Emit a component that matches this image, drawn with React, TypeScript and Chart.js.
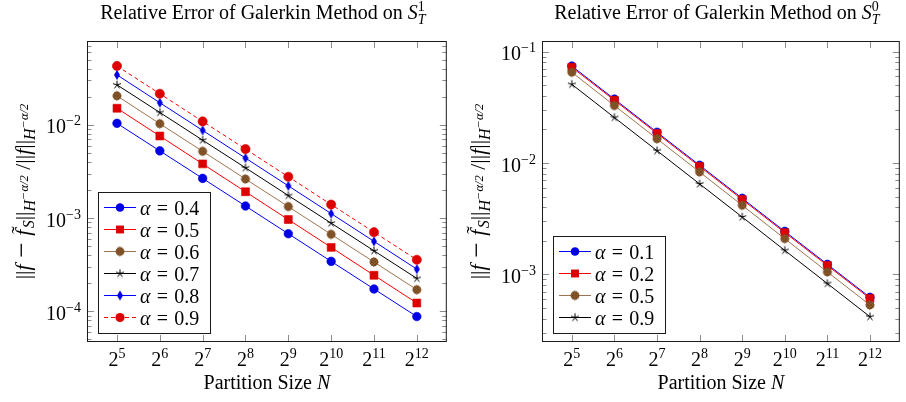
import React, { useEffect, useRef } from "react";
import { Chart, registerables } from "chart.js";

Chart.register(...registerables);

// ---------------- DATA ----------------
const partitionSizes = [32, 64, 128, 256, 512, 1024, 2048, 4096];
const partitionExponents = ["5", "6", "7", "8", "9", "10", "11", "12"];

// Left panel: S^1_T
const alphaLabelsS1 = ["0.4", "0.5", "0.6", "0.7", "0.8", "0.9"];
const errS1_a04 = [0.0104, 0.00527, 0.00267, 0.00135, 0.000681, 0.000344, 0.000174, 0.0000881];
const errS1_a05 = [0.0151, 0.0076, 0.00382, 0.00192, 0.000966, 0.000486, 0.000244, 0.000123];
const errS1_a06 = [0.0205, 0.0103, 0.00521, 0.00263, 0.00133, 0.000671, 0.000339, 0.000171];
const errS1_a07 = [0.0269, 0.0136, 0.00686, 0.00347, 0.00175, 0.000885, 0.000447, 0.000226];
const errS1_a08 = [0.0344, 0.0173, 0.00873, 0.00441, 0.00222, 0.00112, 0.000564, 0.000284];
const errS1_a09 = [0.0429, 0.0216, 0.0109, 0.00551, 0.00278, 0.0014, 0.000708, 0.000358];

// Right panel: S^0_T
const alphaLabelsS0 = ["0.1", "0.2", "0.5", "0.9"];
const errS0_a01 = [0.0743, 0.0375, 0.0189, 0.00955, 0.00482, 0.00243, 0.00123, 0.000621];
const errS0_a02 = [0.0724, 0.0366, 0.01845, 0.00931, 0.0047, 0.00237, 0.0012, 0.000607];
const errS0_a05 = [0.0653, 0.0328, 0.0165, 0.0083, 0.00417, 0.00209, 0.00105, 0.00053];
const errS0_a09 = [0.0509, 0.0256, 0.0129, 0.00649, 0.00327, 0.00164, 0.000826, 0.000416];

// ---------------- TEXT HELPERS ----------------
const SERIF = "'Liberation Serif', 'DejaVu Serif', serif";

type Seg = { t: string; s?: number; it?: boolean; dy?: number; dx?: number; keep?: boolean };

function segFont(g: Seg) {
  return `${g.it ? "italic " : ""}${g.s ?? 20}px ${SERIF}`;
}

function measureRich(ctx: CanvasRenderingContext2D, segs: Seg[]) {
  let w = 0;
  let pending = 0;
  for (const g of segs) {
    ctx.font = segFont(g);
    const m = ctx.measureText(g.t).width;
    if (g.keep) pending = Math.max(pending, m);
    else {
      w += Math.max(m, pending);
      pending = 0;
    }
  }
  return w + pending;
}

function drawRich(
  ctx: CanvasRenderingContext2D,
  segs: Seg[],
  x: number,
  y: number,
  align: "left" | "center" | "right"
) {
  const w = measureRich(ctx, segs);
  let cx = align === "left" ? x : align === "center" ? x - w / 2 : x - w;
  let pending = 0;
  ctx.textAlign = "left";
  ctx.textBaseline = "alphabetic";
  for (const g of segs) {
    ctx.font = segFont(g);
    const m = ctx.measureText(g.t).width;
    ctx.fillText(g.t, cx + (g.dx ?? 0), y + (g.dy ?? 0));
    if (g.keep) pending = Math.max(pending, m);
    else {
      cx += Math.max(m, pending);
      pending = 0;
    }
  }
}

// ---------------- MARKERS ----------------
function makeStar(color: string) {
  const c = document.createElement("canvas");
  c.width = 12;
  c.height = 12;
  const g = c.getContext("2d")!;
  g.strokeStyle = color;
  g.lineWidth = 1;
  g.beginPath();
  for (let k = 0; k < 5; k++) {
    const a = -Math.PI / 2 + (k * 2 * Math.PI) / 5;
    g.moveTo(6, 6);
    g.lineTo(6 + 4.2 * Math.cos(a), 6 + 4.2 * Math.sin(a));
  }
  g.stroke();
  return c;
}

function makeDiamond(color: string) {
  const c = document.createElement("canvas");
  c.width = 10;
  c.height = 14;
  const g = c.getContext("2d")!;
  g.fillStyle = color;
  g.beginPath();
  g.moveTo(5, 2);
  g.lineTo(8, 7);
  g.lineTo(5, 12);
  g.lineTo(2, 7);
  g.closePath();
  g.fill();
  return c;
}

function makeBrownDot() {
  const c = document.createElement("canvas");
  c.width = 12;
  c.height = 12;
  const g = c.getContext("2d")!;
  g.fillStyle = "#8f5d2e";
  g.beginPath();
  g.arc(6, 6, 4.4, 0, Math.PI * 2);
  g.fill();
  g.save();
  g.clip();
  g.strokeStyle = "#6a421c";
  g.lineWidth = 0.7;
  g.beginPath();
  for (let k = -8; k <= 8; k += 3) {
    g.moveTo(k, 0);
    g.lineTo(k + 12, 12);
    g.moveTo(k + 12, 0);
    g.lineTo(k, 12);
  }
  g.stroke();
  g.restore();
  return c;
}

// ---------------- STYLES ----------------
type SeriesStyle = {
  line: string;
  fill: string;
  dash: number[];
  marker: "circle" | "rect" | "star" | "diamond" | "brown";
  r: number;
};

const BLUE: SeriesStyle = { line: "#0000ff", fill: "#0000e6", dash: [], marker: "circle", r: 4.3 };
const RED_SQ: SeriesStyle = { line: "#ff0000", fill: "#dd0000", dash: [], marker: "rect", r: 5.6 };
const BROWN: SeriesStyle = { line: "#9c7550", fill: "#8f5d2e", dash: [], marker: "brown", r: 4.4 };
const BLACK_STAR: SeriesStyle = { line: "#000000", fill: "#000000", dash: [], marker: "star", r: 4.5 };
const BLUE_DIAM: SeriesStyle = { line: "#0000ff", fill: "#0000e6", dash: [], marker: "diamond", r: 4.5 };
const RED_DASH: SeriesStyle = { line: "#ff0000", fill: "#dd0000", dash: [4, 3], marker: "circle", r: 4.6 };

function pointStyleFor(st: SeriesStyle): any {
  if (st.marker === "star") return makeStar(st.fill);
  if (st.marker === "diamond") return makeDiamond(st.fill);
  if (st.marker === "brown") return makeBrownDot();
  return st.marker;
}

// ---------------- CHART BUILDER ----------------
type PanelSpec = {
  title: Seg[];
  padding: { left: number; right: number; top: number; bottom: number };
  xMin: number;
  xMax: number;
  yMin: number;
  yMax: number;
  alphas: string[];
  values: number[][];
  styles: SeriesStyle[];
};

const yLabelSegs: Seg[] = [
  { t: "||", s: 22 },
  { t: "f", s: 22, it: true },
  { t: " − ", s: 27 },
  { t: "˜", s: 22, dy: -4, dx: 2, keep: true },
  { t: "f", s: 22, it: true },
  { t: "S", s: 16, it: true, dy: 4 },
  { t: "||", s: 22 },
  { t: "H", s: 16, it: true, dy: 5 },
  { t: "−α/2", s: 12.5, it: true, dy: -2 },
  { t: " /", s: 22 },
  { t: "||", s: 22 },
  { t: "f", s: 22, it: true },
  { t: "||", s: 22 },
  { t: "H", s: 16, it: true, dy: 5 },
  { t: "−α/2", s: 12.5, it: true, dy: -2 },
];

function buildConfig(spec: PanelSpec): any {
  const pointStyles = spec.styles.map(pointStyleFor);
  const n = spec.values.length;
  const datasets = spec.values.map((vals, i) => {
    const st = spec.styles[i];
    return {
      label: "α = " + spec.alphas[i],
      data: vals.map((v, j) => ({ x: partitionSizes[j], y: v })),
      order: n - i,
      borderColor: st.line,
      borderWidth: 1,
      borderDash: st.dash,
      backgroundColor: st.fill,
      pointStyle: pointStyles[i],
      pointRadius: st.r,
      pointHoverRadius: st.r,
      pointBackgroundColor: st.fill,
      pointBorderColor: st.fill,
      pointBorderWidth: 0.6,
      fill: false,
      tension: 0,
    };
  });

  const panelPlugin = {
    id: "panelDecor",
    afterDraw(chart: any) {
      const { ctx, chartArea: a } = chart;
      const xs = chart.scales.x;
      const ys = chart.scales.y;
      ctx.save();

      // ticks
      ctx.strokeStyle = "#8c8c8c";
      ctx.lineWidth = 1;
      ctx.beginPath();
      for (const v of partitionSizes) {
        const px = Math.round(xs.getPixelForValue(v)) + 0.5;
        ctx.moveTo(px, a.top);
        ctx.lineTo(px, a.top + 7);
        ctx.moveTo(px, a.bottom);
        ctx.lineTo(px, a.bottom - 7);
      }
      const dLo = Math.floor(Math.log10(spec.yMin));
      const dHi = Math.ceil(Math.log10(spec.yMax));
      const majors: { v: number; d: number }[] = [];
      for (let d = dLo; d <= dHi; d++) {
        for (let k = 1; k <= 9; k++) {
          const v = k * Math.pow(10, d);
          if (v < spec.yMin || v > spec.yMax) continue;
          const py = Math.round(ys.getPixelForValue(v)) + 0.5;
          const len = k === 1 ? 7 : 4.5;
          ctx.moveTo(a.left, py);
          ctx.lineTo(a.left + len, py);
          ctx.moveTo(a.right, py);
          ctx.lineTo(a.right - len, py);
          if (k === 1) majors.push({ v, d });
        }
      }
      ctx.stroke();

      // frame
      ctx.strokeStyle = "#1a1a1a";
      ctx.lineWidth = 1;
      ctx.strokeRect(a.left + 0.5, a.top + 0.5, a.right - a.left - 1, a.bottom - a.top - 1);

      // legend
      const rowH = 22;
      const bx = a.left + 11;
      const bw = 112;
      const bh = rowH * n + 9;
      const by = a.bottom - 9 - bh;
      ctx.fillStyle = "#ffffff";
      ctx.fillRect(bx, by, bw, bh);
      ctx.strokeStyle = "#1a1a1a";
      ctx.lineWidth = 1;
      ctx.strokeRect(Math.round(bx) + 0.5, Math.round(by) + 0.5, bw, bh);
      for (let i = 0; i < n; i++) {
        const st = spec.styles[i];
        const cy = by + 15.5 + i * rowH;
        ctx.strokeStyle = st.line;
        ctx.lineWidth = 1;
        ctx.setLineDash(st.dash);
        ctx.beginPath();
        ctx.moveTo(bx + 6, cy);
        ctx.lineTo(bx + 38, cy);
        ctx.stroke();
        ctx.setLineDash([]);
        const mx = bx + 22;
        const ps = pointStyles[i];
        if (ps === "circle") {
          ctx.fillStyle = st.fill;
          ctx.beginPath();
          ctx.arc(mx, cy, st.r, 0, Math.PI * 2);
          ctx.fill();
        } else if (ps === "rect") {
          const side = st.r * Math.SQRT2;
          ctx.fillStyle = st.fill;
          ctx.fillRect(mx - side / 2, cy - side / 2, side, side);
        } else {
          ctx.drawImage(ps, mx - ps.width / 2, cy - ps.height / 2);
        }
        ctx.fillStyle = "#000";
        drawRich(
          ctx,
          [{ t: "α", it: true }, { t: " ", s: 25 }, { t: "=" }, { t: " ", s: 25 }, { t: spec.alphas[i] }],
          bx + 42,
          cy + 7,
          "left"
        );
      }

      // tick labels
      ctx.fillStyle = "#000";
      partitionSizes.forEach((v, j) => {
        const px = xs.getPixelForValue(v);
        drawRich(
          ctx,
          [{ t: "2" }, { t: partitionExponents[j], s: 14, dy: -8 }],
          px,
          a.bottom + 24,
          "center"
        );
      });
      for (const m of majors) {
        const py = ys.getPixelForValue(m.v);
        drawRich(
          ctx,
          [{ t: "10" }, { t: "−" + String(Math.abs(m.d)), s: 14, dy: -8 }],
          a.left - 6,
          py + 8.5,
          "right"
        );
      }

      // axis titles
      const cx = (a.left + a.right) / 2;
      drawRich(ctx, [{ t: "Partition Size " }, { t: "N", it: true }], cx, a.bottom + 47, "center");
      ctx.save();
      ctx.translate(a.left - 57, (a.top + a.bottom) / 2);
      ctx.rotate(-Math.PI / 2);
      drawRich(ctx, yLabelSegs, 0, 0, "center");
      ctx.restore();

      // chart title
      drawRich(ctx, spec.title, cx - 4, 19, "center");

      ctx.restore();
    },
  };

  return {
    type: "line",
    data: { datasets },
    options: {
      responsive: false,
      animation: false,
      events: [],
      layout: { padding: spec.padding },
      plugins: { legend: { display: false }, title: { display: false }, tooltip: { enabled: false } },
      scales: {
        x: { type: "logarithmic", display: false, min: spec.xMin, max: spec.xMax, bounds: "data" },
        y: { type: "logarithmic", display: false, min: spec.yMin, max: spec.yMax, bounds: "data" },
      },
    },
    plugins: [panelPlugin],
  };
}

const leftSpec: PanelSpec = {
  title: [
    { t: "Relative Error of Galerkin Method on " },
    { t: "S", it: true },
    { t: "1", s: 14, dy: -8, keep: true },
    { t: "T", s: 14, it: true, dy: 5 },
  ],
  padding: { left: 87, right: 4, top: 41, bottom: 60 },
  xMin: Math.pow(2, 4.3),
  xMax: Math.pow(2, 12.7),
  yMin: Math.pow(10, -4.328),
  yMax: Math.pow(10, -1.1),
  alphas: alphaLabelsS1,
  values: [errS1_a04, errS1_a05, errS1_a06, errS1_a07, errS1_a08, errS1_a09],
  styles: [BLUE, RED_SQ, BROWN, BLACK_STAR, BLUE_DIAM, RED_DASH],
};

const rightSpec: PanelSpec = {
  title: [
    { t: "Relative Error of Galerkin Method on " },
    { t: "S", it: true },
    { t: "0", s: 14, dy: -8, keep: true },
    { t: "T", s: 14, it: true, dy: 5 },
  ],
  padding: { left: 89, right: 1, top: 41, bottom: 60 },
  xMin: Math.pow(2, 4.3),
  xMax: Math.pow(2, 12.7),
  yMin: Math.pow(10, -3.608),
  yMax: Math.pow(10, -0.904),
  alphas: alphaLabelsS0,
  values: [errS0_a01, errS0_a02, errS0_a05, errS0_a09],
  styles: [BLUE, RED_SQ, BROWN, BLACK_STAR],
};

export default function App() {
  const leftRef = useRef<HTMLCanvasElement>(null);
  const rightRef = useRef<HTMLCanvasElement>(null);
  useEffect(() => {
    const c1 = new Chart(leftRef.current!, buildConfig(leftSpec));
    const c2 = new Chart(rightRef.current!, buildConfig(rightSpec));
    return () => {
      c1.destroy();
      c2.destroy();
    };
  }, []);
  return (
    <div style={{ position: "absolute", left: 0, top: 0, width: 906, height: 402, background: "#fff" }}>
      <canvas ref={leftRef} width={453} height={402} style={{ position: "absolute", left: 0, top: 0 }} />
      <canvas ref={rightRef} width={453} height={402} style={{ position: "absolute", left: 453, top: 0 }} />
    </div>
  );
}
